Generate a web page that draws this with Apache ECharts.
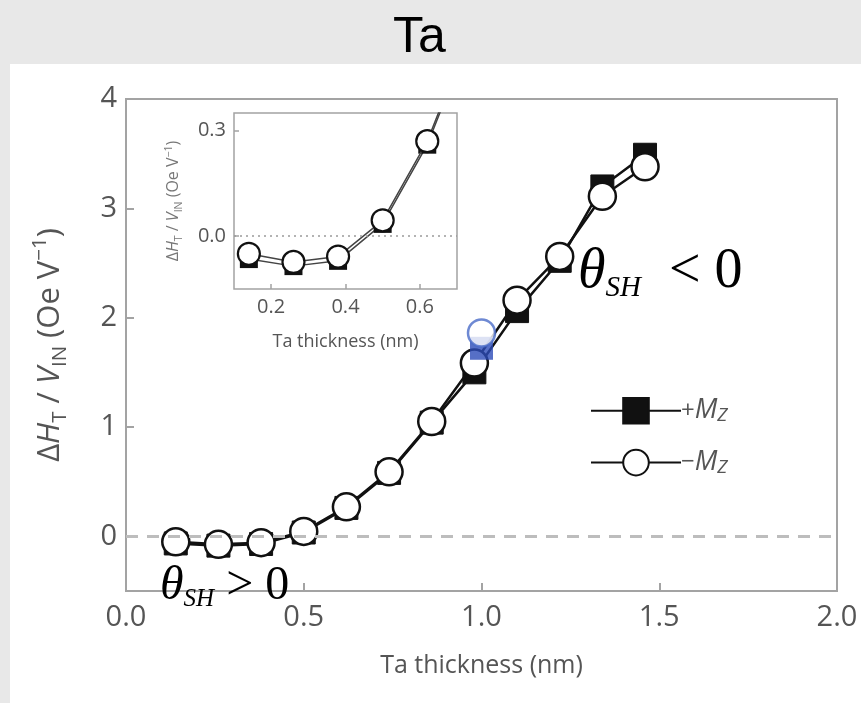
<!DOCTYPE html>
<html>
<head>
<meta charset="utf-8">
<script src="https://cdn.jsdelivr.net/npm/echarts@6/dist/echarts.min.js"></script>
<style>
  html, body { margin: 0; padding: 0; background: #e8e8e8; }
  #chart { width: 861px; height: 703px; }
</style>
</head>
<body>
<div id="chart"></div>
<script>
// Ta layer thickness (nm)
const thickness = [0.14, 0.26, 0.38, 0.50, 0.62, 0.74, 0.86, 0.98, 1.10, 1.22, 1.34, 1.46];
// ΔH_T / V_IN (Oe V^-1) for magnetization +Mz and −Mz
const plusMz  = [-0.065, -0.085, -0.070, 0.035, 0.26, 0.58, 1.04, 1.50, 2.06, 2.52, 3.20, 3.49];
const minusMz = [-0.050, -0.073, -0.058, 0.045, 0.27, 0.59, 1.05, 1.585, 2.16, 2.56, 3.11, 3.38];
// highlighted measurement at 1.0 nm
const markedPlus  = [[1.0, 1.72]];
const markedMinus = [[1.0, 1.86]];
// tick values
const mainXTicks = [0, 0.5, 1.0, 1.5, 2.0];
const mainYTicks = [0, 1, 2, 3, 4];
const insetXTicks = [0.2, 0.4, 0.6];
const insetYTicks = [0.0, 0.3];

const pair = (xs, ys) => xs.map((x, i) => [x, ys[i]]);
const plusData = pair(thickness, plusMz);
const minusData = pair(thickness, minusMz);

const LABEL = '#555';
const FRAME = '#a3a3a3';
const FONT = 'Open Sans';

const yNameRich = (fs, color) => ({
  d:   { fontFamily: FONT, fontSize: fs, color: color, lineHeight: fs * 1.3 },
  i:   { fontFamily: FONT, fontSize: fs, fontStyle: 'italic', color: color, lineHeight: fs * 1.3 },
  s:   { fontFamily: FONT, fontSize: fs * 0.66, color: color, verticalAlign: 'bottom', lineHeight: fs * 0.66 },
  sup: { fontFamily: FONT, fontSize: fs * 0.66, color: color, verticalAlign: 'top', lineHeight: fs * 0.66 }
});
const yNameText = '{d|Δ}{i|H}{s|T}{d| / }{i|V}{s|IN}{d| (Oe V}{sup|−1}{d|)}';

const thetaRich = (big, small) => ({
  t: { fontFamily: 'Liberation Serif', fontStyle: 'italic', fontSize: big, color: '#000', lineHeight: big * 1.1 },
  s: { fontFamily: 'Liberation Serif', fontStyle: 'italic', fontSize: small, color: '#000', verticalAlign: 'bottom', lineHeight: small },
  o: { fontFamily: 'Liberation Serif', fontSize: big, color: '#000', lineHeight: big * 1.1 }
});

const chart = echarts.init(document.getElementById('chart'));
chart.setOption({
  backgroundColor: '#e8e8e8',
  animation: false,
  title: {
    text: 'Ta',
    left: 388,
    top: 8,
    textStyle: { fontFamily: 'Liberation Sans', fontSize: 50, fontWeight: 'normal', color: '#000' }
  },
  graphic: [
    { type: 'rect', z: -100, shape: { x: 10, y: 64, width: 851, height: 639 }, style: { fill: '#fff' } },
    {
      type: 'text', left: 578, top: 244, z: 100,
      style: { text: '{t|θ}{s|SH}{o|  < 0}', rich: thetaRich(56, 29) }
    },
    {
      type: 'text', left: 160, top: 562, z: 100,
      style: { text: '{t|θ}{s|SH}{o| > 0}', rich: thetaRich(48, 25) }
    }
  ],
  legend: {
    data: ['+Mz', '−Mz'],
    orient: 'vertical',
    left: 585,
    top: 392,
    itemWidth: 90,
    itemHeight: 32,
    itemGap: 24,
    formatter: (n) => (n === '+Mz' ? '{p|+}' : '{p|−}') + '{i|M}{s|Z}',
    textStyle: {
      padding: [0, 0, 0, -5],
      rich: {
        p: { fontFamily: FONT, fontSize: 24, color: LABEL, lineHeight: 28 },
        i: { fontFamily: FONT, fontSize: 27, fontStyle: 'italic', color: LABEL, lineHeight: 28 },
        s: { fontFamily: FONT, fontSize: 19, fontStyle: 'italic', color: LABEL, verticalAlign: 'bottom', lineHeight: 16 }
      }
    }
  },
  grid: [
    { left: 126, top: 99, width: 711, height: 492, show: true, borderColor: FRAME, borderWidth: 2, backgroundColor: 'transparent' },
    { left: 234, top: 113, width: 223, height: 176, show: true, borderColor: FRAME, borderWidth: 1.5, backgroundColor: '#fff' }
  ],
  xAxis: [
    {
      gridIndex: 0, type: 'value', min: 0, max: 2, interval: 0.5, position: 'bottom',
      name: 'Ta thickness (nm)', nameLocation: 'middle', nameGap: 62,
      nameTextStyle: { fontFamily: FONT, fontSize: 25, color: LABEL },
      axisLine: { show: false, onZero: false },
      axisTick: { show: true, inside: true, length: 8, lineStyle: { color: FRAME, width: 2 }, customValues: mainXTicks },
      axisLabel: { fontFamily: FONT, fontSize: 29, color: LABEL, margin: 12, customValues: mainXTicks, formatter: v => v.toFixed(1) },
      splitLine: { show: false }
    },
    {
      gridIndex: 1, type: 'value', min: 0.1, max: 0.7, position: 'bottom',
      name: 'Ta thickness (nm)', nameLocation: 'middle', nameGap: 44,
      nameTextStyle: { fontFamily: FONT, fontSize: 18, color: LABEL },
      axisLine: { show: false, onZero: false },
      axisTick: { show: true, inside: true, length: 5, lineStyle: { color: FRAME, width: 1.5 }, customValues: insetXTicks },
      axisLabel: { fontFamily: FONT, fontSize: 20, color: LABEL, margin: 8, customValues: insetXTicks, formatter: v => v.toFixed(1) },
      splitLine: { show: false }
    }
  ],
  yAxis: [
    {
      gridIndex: 0, type: 'value', min: -0.5, max: 4, position: 'left',
      name: yNameText, nameLocation: 'middle', nameRotate: 90, nameGap: 56,
      nameTextStyle: { rich: yNameRich(31, LABEL) },
      axisLine: { show: false, onZero: false },
      axisTick: { show: true, inside: true, length: 8, lineStyle: { color: FRAME, width: 2 }, customValues: mainYTicks },
      axisLabel: { fontFamily: FONT, fontSize: 29, color: LABEL, margin: 9, customValues: mainYTicks, formatter: v => String(Math.round(v)) },
      splitLine: { show: false }
    },
    {
      gridIndex: 1, type: 'value', min: -0.15, max: 0.35, position: 'left',
      name: yNameText, nameLocation: 'middle', nameRotate: 90, nameGap: 50,
      nameTextStyle: { rich: yNameRich(16, '#777') },
      axisLine: { show: false, onZero: false },
      axisTick: { show: true, inside: true, length: 5, lineStyle: { color: FRAME, width: 1.5 }, customValues: insetYTicks },
      axisLabel: { fontFamily: FONT, fontSize: 20, color: LABEL, margin: 8, customValues: insetYTicks, formatter: v => v.toFixed(1) },
      splitLine: { show: false }
    }
  ],
  series: [
    {
      name: '+Mz', type: 'line', xAxisIndex: 0, yAxisIndex: 0, data: plusData,
      symbol: 'rect', symbolSize: 23, showAllSymbol: true,
      lineStyle: { color: '#111', width: 2.5 },
      itemStyle: { color: '#111', borderColor: '#111', borderWidth: 1 },
      markLine: {
        silent: true, symbol: 'none', label: { show: false },
        lineStyle: { color: '#bdbdbd', type: [12, 9], width: 3 },
        data: [{ yAxis: 0 }]
      },
      z: 3
    },
    {
      name: '−Mz', type: 'line', xAxisIndex: 0, yAxisIndex: 0, data: minusData,
      symbol: 'circle', symbolSize: 27, showAllSymbol: true,
      lineStyle: { color: '#111', width: 2.5 },
      itemStyle: { color: '#fff', borderColor: '#111', borderWidth: 2.5 },
      z: 4
    },
    {
      name: 'markedPlus', type: 'scatter', xAxisIndex: 0, yAxisIndex: 0, data: markedPlus,
      symbol: 'rect', symbolSize: 23,
      itemStyle: { color: '#2c4bb8' },
      z: 5
    },
    {
      name: 'markedMinus', type: 'scatter', xAxisIndex: 0, yAxisIndex: 0, data: markedMinus,
      symbol: 'circle', symbolSize: 27,
      itemStyle: { color: '#fff', borderColor: '#4a6cc8', borderWidth: 2.5 },
      z: 6
    },
    {
      name: 'inset+Mz', type: 'line', xAxisIndex: 1, yAxisIndex: 1, data: plusData,
      symbol: 'rect', symbolSize: 18, showAllSymbol: true, clip: true,
      lineStyle: { color: '#444', width: 1.5 },
      itemStyle: { color: '#111' },
      markLine: {
        silent: true, symbol: 'none', label: { show: false },
        lineStyle: { color: '#9a9a9a', type: [2, 4], width: 1.5 },
        data: [{ yAxis: 0 }]
      },
      z: 3
    },
    {
      name: 'inset−Mz', type: 'line', xAxisIndex: 1, yAxisIndex: 1, data: minusData,
      symbol: 'circle', symbolSize: 22, showAllSymbol: true, clip: true,
      lineStyle: { color: '#444', width: 1.5 },
      itemStyle: { color: '#fff', borderColor: '#111', borderWidth: 2.2 },
      z: 4
    }
  ]
});
</script>
</body>
</html>
